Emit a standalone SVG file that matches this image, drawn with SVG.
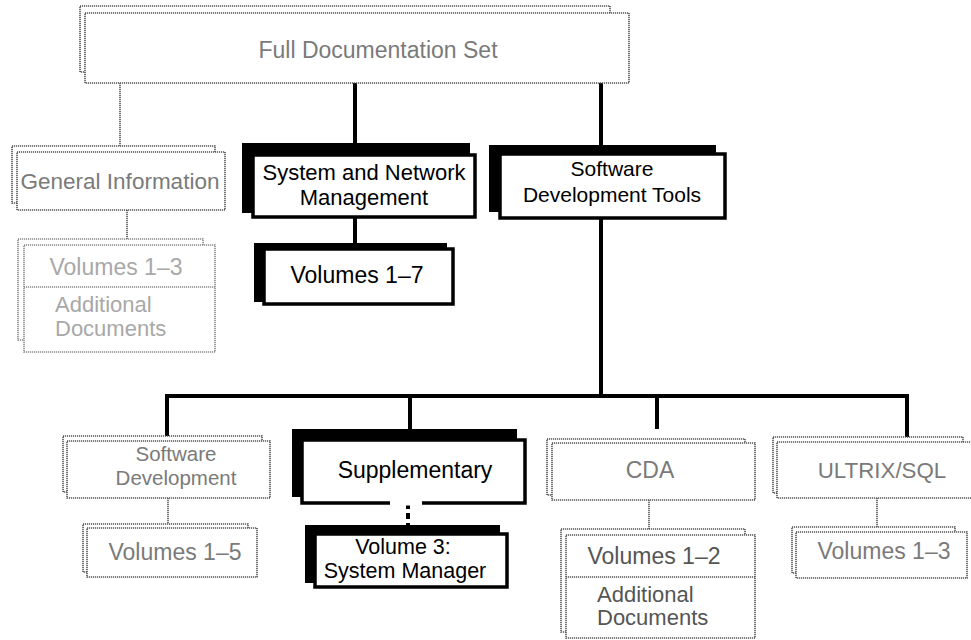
<svg xmlns="http://www.w3.org/2000/svg" width="971" height="640" viewBox="0 0 971 640">
<style>
text{font-family:"Liberation Sans",Arial,Helvetica,sans-serif;font-size:23px;text-anchor:middle}
.g rect{fill:#fff;stroke:#555;stroke-width:1.6;stroke-dasharray:1.2 0.8}
.g text{fill:#7a7a7a}
.g line{stroke:#555;stroke-width:1.6;stroke-dasharray:1.2 0.8}
.lt text{fill:#a8a8a8}
.lt rect,.lt line{stroke:#8a8a8a}
.dk text{fill:#555}
.b .sh{fill:#000}
.b .mn{fill:#fff;stroke:#000;stroke-width:3.5}
.b text{fill:#000}
.bl{stroke:#000;stroke-width:4;fill:none}
.gl{stroke:#555;stroke-width:1.6;stroke-dasharray:1.2 0.8;fill:none}
.la{text-anchor:start}
</style>
<g id="connectors">
<line class="gl" x1="120" y1="83" x2="120" y2="146"/>
<line class="gl" x1="127" y1="210" x2="127" y2="239"/>
<line class="bl" x1="355" y1="83" x2="355" y2="144"/>
<line class="bl" x1="355" y1="217" x2="355" y2="243"/>
<line class="bl" x1="601" y1="83" x2="601" y2="145"/>
<polyline class="bl" points="601,218 601,396"/>
<polyline class="bl" points="167,436 167,396 907,396 907,437"/>
<line class="bl" x1="410" y1="396" x2="410" y2="429"/>
<line class="bl" x1="657" y1="396" x2="657" y2="429"/>
<line class="bl" x1="408" y1="503" x2="408" y2="525" stroke-dasharray="6 4"/>
<line class="gl" x1="168" y1="498" x2="168" y2="524"/>
<line class="gl" x1="649" y1="500" x2="649" y2="529"/>
<line class="gl" x1="877" y1="498" x2="877" y2="527"/>
</g>
<g id="full-doc" class="g">
<rect x="80" y="6" width="530" height="66"/>
<rect x="85" y="13" width="544" height="70"/>
<text x="378" y="58">Full Documentation Set</text>
</g>
<g id="general-info" class="g">
<rect x="12" y="146" width="203" height="57"/>
<rect x="17" y="152" width="208" height="58"/>
<text x="120" y="189" style="font-size:22.5px">General Information</text>
</g>
<g id="general-vols" class="g lt">
<rect x="18" y="239" width="185" height="101"/>
<rect x="24" y="245" width="191" height="107"/>
<line x1="24" y1="287" x2="215" y2="287"/>
<text x="116" y="275">Volumes 1–3</text>
<text class="la" x="55" y="312" style="font-size:22px">Additional</text>
<text class="la" x="55" y="336" style="font-size:22px">Documents</text>
</g>
<g id="sys-net" class="b">
<rect class="sh" x="242" y="143" width="228" height="70"/>
<rect class="mn" x="253" y="155" width="222" height="62"/>
<text x="364" y="180" style="font-size:22px">System and Network</text>
<text x="364" y="205" style="font-size:22px">Management</text>
</g>
<g id="sys-vols" class="b">
<rect class="sh" x="254" y="243" width="193" height="59"/>
<rect class="mn" x="264" y="249" width="189" height="55"/>
<text x="357" y="283">Volumes 1–7</text>
</g>
<g id="sdt" class="b">
<rect class="sh" x="489" y="145" width="227" height="67"/>
<rect class="mn" x="500" y="154" width="225" height="64"/>
<text x="612" y="176" style="font-size:21px">Software</text>
<text x="612" y="202" style="font-size:21px">Development Tools</text>
</g>
<g id="sw-dev" class="g">
<rect x="63" y="436" width="199" height="56"/>
<rect x="67" y="441" width="203" height="57"/>
<text x="176" y="461" style="font-size:20.5px">Software</text>
<text x="176" y="485" style="font-size:20.5px">Development</text>
</g>
<g id="sw-dev-vols" class="g">
<rect x="83" y="524" width="165" height="48"/>
<rect x="87" y="528" width="170" height="49"/>
<text x="175" y="560">Volumes 1–5</text>
</g>
<g id="supplementary" class="b">
<rect class="sh" x="292" y="429" width="225" height="68"/>
<rect class="mn" x="302" y="440" width="223" height="63"/>
<line x1="390" y1="503" x2="422" y2="503" stroke="#fff" stroke-width="5"/>
<text x="415" y="478">Supplementary</text>
</g>
<g id="vol3" class="b">
<rect class="sh" x="305" y="525" width="195" height="58"/>
<rect class="mn" x="315" y="534" width="192" height="53"/>
<text x="403" y="554" style="font-size:21.5px">Volume 3:</text>
<text x="405" y="578" style="font-size:21.5px">System Manager</text>
</g>
<g id="cda" class="g">
<rect x="547" y="439" width="198" height="56"/>
<rect x="552" y="443" width="203" height="57"/>
<text x="650" y="478">CDA</text>
</g>
<g id="cda-vols" class="g dk">
<rect x="561" y="529" width="184" height="103"/>
<rect x="566" y="535" width="189" height="103"/>
<line x1="566" y1="577" x2="755" y2="577"/>
<text x="654" y="564">Volumes 1–2</text>
<text class="la" x="597" y="602" style="font-size:22px">Additional</text>
<text class="la" x="597" y="625" style="font-size:22px">Documents</text>
</g>
<g id="ultrix" class="g">
<rect x="773" y="437" width="190" height="56"/>
<rect x="777" y="442" width="196" height="56"/>
<text x="882" y="478" style="font-size:22.3px">ULTRIX/SQL</text>
</g>
<g id="ultrix-vols" class="g">
<rect x="792" y="527" width="163" height="46"/>
<rect x="796" y="532" width="171" height="46"/>
<text x="884" y="559">Volumes 1–3</text>
</g>
</svg>
